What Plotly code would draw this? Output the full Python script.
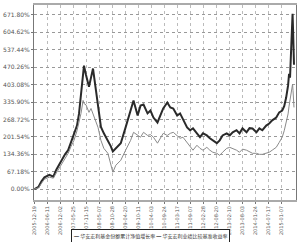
import plotly.graph_objects as go

dates = ["2005-12-19","2006-02-10","2006-03-22","2006-05-01","2006-07-06","2006-08-28","2006-10-07",
         "2006-12-13","2007-02-03","2007-03-15","2007-04-23","2007-06-01","2007-07-11","2007-08-07",
         "2007-09-03","2007-10-01","2007-10-13","2007-11-09","2007-12-19","2008-01-15","2008-02-11",
         "2008-03-22","2008-04-18","2008-05-27","2008-07-05","2008-08-28","2008-10-07","2008-11-03",
         "2008-12-13","2009-02-17","2009-04-23","2009-06-29","2009-08-07","2009-10-01","2009-11-09",
         "2009-12-19","2010-02-11","2010-03-22","2010-05-01","2010-06-24","2010-08-01","2010-09-09",
         "2010-11-03","2010-12-13","2011-01-22","2011-03-15","2011-04-23","2011-06-01","2011-07-26",
         "2011-09-04","2011-10-13","2011-12-05","2012-01-15","2012-02-24","2012-04-16","2012-05-26",
         "2012-07-05","2012-08-28","2012-10-05","2012-11-13","2013-01-07","2013-02-17","2013-03-28",
         "2013-05-19","2013-06-28","2013-08-07","2013-09-30","2013-11-09","2013-12-19","2014-02-10",
         "2014-03-21","2014-04-30","2014-06-21","2014-07-31","2014-09-09","2014-11-02","2014-12-12",
         "2015-01-21","2015-02-17","2015-03-15","2015-04-10","2015-04-23","2015-05-06","2015-05-19",
         "2015-06-02","2015-06-09","2015-06-15","2015-06-28"]

fund = [0,8,30,45,55,48,75,110,135,150,180,207,245,290,360,430,476,440,395,430,465,
        380,330,240,215,188,165,145,157,177,238,300,342,284,322,326,292,303,276,257,284,311,
        334,315,311,284,292,272,238,227,234,215,200,215,207,196,188,177,188,207,215,207,219,
        227,215,234,219,235,234,219,234,227,245,253,265,276,296,303,320,353,400,445,430,560,
        640,676,620,480]

bench = [0,5,22,38,46,42,62,95,120,138,165,188,225,260,292,342,330,325,296,311,290,
         255,238,188,157,138,92,65,92,111,150,188,219,207,200,219,207,210,200,177,196,215,
         207,215,219,207,196,200,180,161,150,169,157,150,161,150,142,138,130,142,157,161,157,
         150,142,154,150,145,138,138,134,134,138,142,150,161,180,200,225,253,290,320,345,380,
         400,405,380,315]

tick_dates = ["2005-12-19","2006-06-11","2006-12-02","2007-05-25","2007-11-15","2008-05-07",
              "2008-10-28","2009-04-20","2009-10-11","2010-04-03","2010-09-24","2011-03-17",
              "2011-09-07","2012-02-28","2012-08-20","2013-02-10","2013-08-03","2014-01-24",
              "2014-07-17","2015-01-07"]

y_ticks = [0.00, 67.18, 134.36, 201.54, 268.72, 335.90, 403.08, 470.26, 537.44, 604.62, 671.80]
y_labels = ["%.2f%%" % v for v in y_ticks]

name_fund = "华安宏利基金份额累计净值增长率"
name_bench = "华安宏利业绩比较基准收益率"

fig = go.Figure()
fig.add_trace(go.Scatter(x=dates, y=fund, mode="lines", name=name_fund, showlegend=False,
                         line=dict(color="#2a2a2a", width=2)))
fig.add_trace(go.Scatter(x=dates, y=bench, mode="lines", name=name_bench, showlegend=False,
                         line=dict(color="#8a8a8a", width=1)))

legend_text = ("<span style='color:#222'>━</span> " + name_fund +
               " <span style='color:#222'>━</span> " + name_bench)
fig.add_annotation(xref="paper", yref="paper", x=0.445, y=-0.184,
                   xanchor="center", yanchor="middle", showarrow=False,
                   text=legend_text,
                   font=dict(family="Noto Sans CJK SC", size=5, color="#333"),
                   bordercolor="#222", borderwidth=1, borderpad=2, bgcolor="white")

fig.update_layout(
    width=300, height=242,
    margin=dict(l=32, r=3, t=4, b=42),
    paper_bgcolor="white", plot_bgcolor="white",
    font=dict(family="DejaVu Sans", size=6, color="#444"),
    showlegend=False,
    xaxis=dict(type="date", range=["2005-12-12", "2015-07-25"],
               tickmode="array", tickvals=tick_dates, ticktext=tick_dates,
               tickangle=-90, tickfont=dict(size=5, color="#555"),
               showgrid=True, gridcolor="#bbbbbb", griddash="dot", gridwidth=1,
               showline=True, linecolor="#aaaaaa", linewidth=2, mirror=True,
               ticks="outside", ticklen=2, tickcolor="#777", zeroline=False),
    yaxis=dict(range=[-42.2, 710.2], tickmode="array", tickvals=y_ticks, ticktext=y_labels,
               tickfont=dict(size=6, color="#555"),
               showgrid=True, gridcolor="#999999", griddash="dot", gridwidth=1,
               showline=True, linecolor="#777777", linewidth=1, mirror=True,
               ticks="outside", ticklen=2, tickcolor="#777", zeroline=False),
)

fig.write_html("out.html")
